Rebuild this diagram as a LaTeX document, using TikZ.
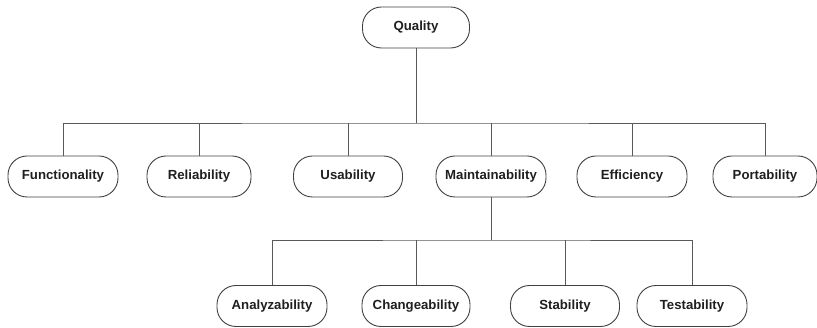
\documentclass[tikz,border=0pt]{standalone}
\usepackage{fontspec}
\setmainfont{Liberation Sans}
\begin{document}
\begin{tikzpicture}[x=1pt,y=-1pt,
  qbox/.style={draw=black!75, line width=0.9pt, rounded corners=19pt,
    minimum width=108pt, minimum height=41pt, inner sep=0pt,
    text=black!88, font=\fontsize{13.2}{15}\selectfont\bfseries},
  link/.style={draw=black!65, line width=0.9pt}]
\useasboundingbox (0,0) rectangle (817,328);

% top level
\node[qbox, minimum width=107pt] (q) at (416,27.5) {Quality};

% characteristics
\node[qbox, minimum width=110pt] (fun) at (63,176.5) {Functionality};
\node[qbox, minimum width=104pt] (rel) at (199,176.5) {Reliability};
\node[qbox, minimum width=109pt] (usa) at (348,176.5) {Usability};
\node[qbox, minimum width=110pt] (mai) at (491,176.5) {Maintainability};
\node[qbox, minimum width=110pt] (eff) at (632,176.5) {Efficiency};
\node[qbox, minimum width=104pt] (por) at (765,176.5) {Portability};

% maintainability sub-characteristics
\node[qbox, minimum width=110pt] (ana) at (272,306) {Analyzability};
\node[qbox, minimum width=108pt] (cha) at (416,306) {Changeability};
\node[qbox, minimum width=109pt] (sta) at (565,306) {Stability};
\node[qbox, minimum width=110pt] (tes) at (692,306) {Testability};

% bus junctions
\coordinate (b1) at (416,123);
\coordinate (b2) at (491,240);

% first level tree
\draw[link] (q.south) -- (b1);
\draw[link] (fun.north) |- (b1) -| (por.north);
\foreach \n in {rel,usa,mai,eff} \draw[link] (\n.north) -- (\n.north |- b1);

% second level tree
\draw[link] (mai.south) -- (b2);
\draw[link] (ana.north) |- (b2) -| (tes.north);
\foreach \n in {cha,sta} \draw[link] (\n.north) -- (\n.north |- b2);
\end{tikzpicture}
\end{document}
